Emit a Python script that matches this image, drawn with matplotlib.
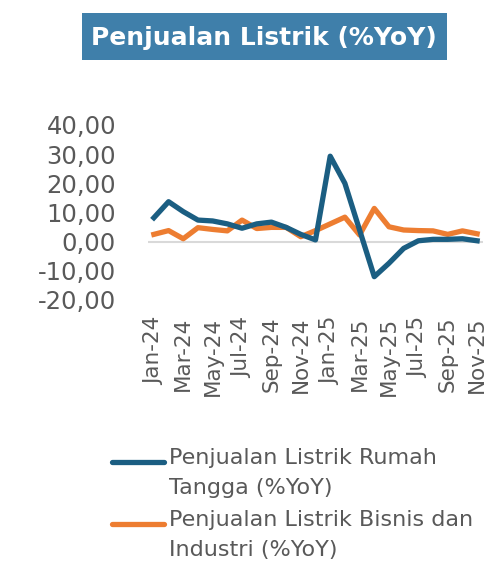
import matplotlib
matplotlib.use("Agg")
import matplotlib.pyplot as plt
from matplotlib.lines import Line2D
from matplotlib.patches import Rectangle

months = ["Jan-24", "Feb-24", "Mar-24", "Apr-24", "May-24", "Jun-24", "Jul-24", "Aug-24",
          "Sep-24", "Oct-24", "Nov-24", "Dec-24", "Jan-25", "Feb-25", "Mar-25", "Apr-25",
          "May-25", "Jun-25", "Jul-25", "Aug-25", "Sep-25", "Oct-25", "Nov-25"]
rumah_tangga = [8.2, 13.7, 10.3, 7.4, 7.1, 6.1, 4.6, 6.1, 6.7, 4.9, 2.5, 0.6,
                29.3, 20.0, 4.0, -12.0, -7.4, -2.3, 0.3, 0.8, 0.8, 1.0, 0.3]
bisnis_industri = [2.5, 3.8, 1.0, 4.8, 4.2, 3.7, 7.4, 4.5, 4.9, 4.9, 1.7, 3.8,
                   6.1, 8.4, 2.3, 11.4, 5.1, 4.0, 3.8, 3.7, 2.5, 3.7, 2.7]
yticks = [40, 30, 20, 10, 0, -10, -20]

blue = "#1B5E82"
orange = "#ED7D31"
grey = "#595959"

W, H = 491, 573
fig = plt.figure(figsize=(W / 100, H / 100), dpi=100)
ax = fig.add_axes([148 / W, (H - 300) / H, 335 / W, 175 / H])

x = list(range(len(months)))
ax.axhline(0, color="#D9D9D9", lw=1.5, zorder=1)
ax.plot(x, rumah_tangga, color=blue, lw=3.8, solid_joinstyle="round", zorder=3)
ax.plot(x, bisnis_industri, color=orange, lw=3.8, solid_joinstyle="round", zorder=2)

ax.set_ylim(-20, 40)
ax.set_xlim(-0.4, 22.4)
ax.set_yticks(yticks)
ax.set_yticklabels([f"{v:.2f}".replace(".", ",") for v in yticks], fontsize=17.5, color=grey)
ax.set_xticks(x[::2])
ax.set_xticklabels(months[::2], rotation=90, fontsize=15.5, color=grey)
ax.tick_params(axis="y", length=0, pad=23)
ax.tick_params(axis="x", length=0, pad=12)
for s in ax.spines.values():
    s.set_visible(False)

# title box
fig.patches.append(Rectangle((82 / W, 1 - 60 / H), 365 / W, 47 / H, transform=fig.transFigure,
                             facecolor="#3F7FAA", edgecolor="none", figure=fig))
fig.text(264 / W, 1 - 38 / H, "Penjualan Listrik (%YoY)", ha="center", va="center",
         fontsize=18, fontweight="bold", color="white")

# legend
entries = [(blue, 462, "Penjualan Listrik Rumah\nTangga (%YoY)"),
           (orange, 524, "Penjualan Listrik Bisnis dan\nIndustri (%YoY)")]
for col, yp, lab in entries:
    fig.add_artist(Line2D([112 / W, 164 / W], [1 - yp / H, 1 - yp / H], color=col,
                          lw=3.8, solid_capstyle="round", transform=fig.transFigure))
    fig.text(169 / W, 1 - (yp - 14) / H, lab, ha="left", va="top", fontsize=16,
             color=grey, linespacing=1.65)

fig.savefig("out.png", dpi=100)
